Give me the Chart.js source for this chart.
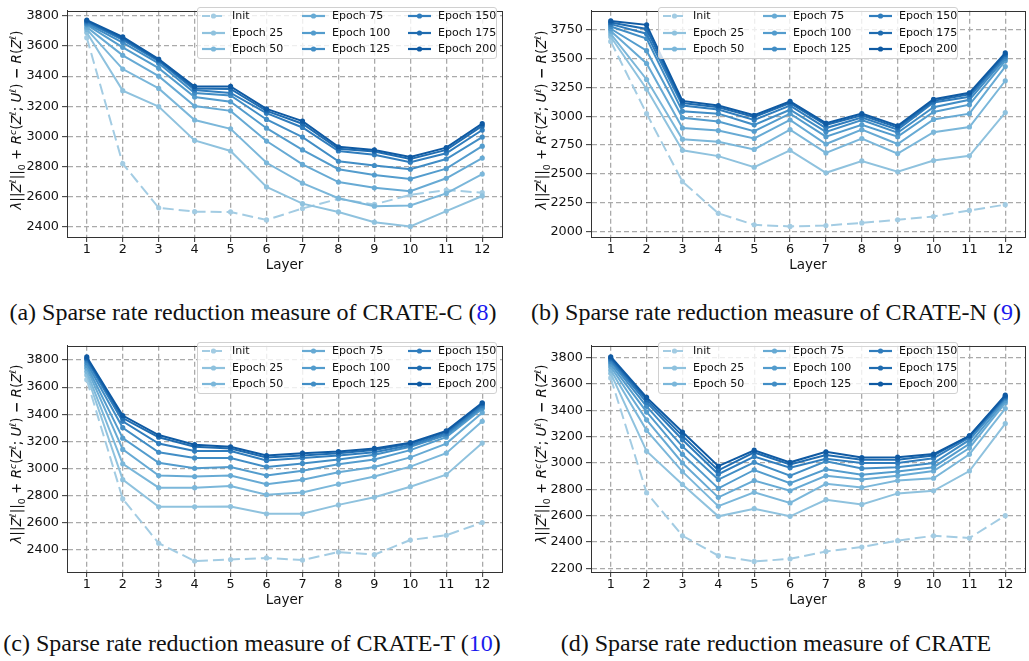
<!DOCTYPE html>
<html>
<head>
<meta charset="utf-8">
<script src="https://cdn.jsdelivr.net/npm/chart.js@4.4.0/dist/chart.umd.min.js"></script>
<style>
    body { margin: 0; background: #fff; width: 1029px; height: 661px; position: relative; overflow: hidden; }
    canvas { position: absolute; }
    .cap { position: absolute; font-family: "Liberation Serif", serif; font-size: 24px; color: #111;
           white-space: nowrap; transform: translate(-50%, -50%); }
    .cap .ref { color: #1a1aee; }
    .ytitle { position: absolute; font-family: "DejaVu Sans", sans-serif; font-size: 13.5px; color: #111;
              white-space: nowrap; transform: translate(-50%, -50%) rotate(-90deg); line-height: 16px; }
    .ytitle i { font-style: italic; }
    .ytitle sup, .ytitle sub { font-size: 70%; line-height: 0; }
    .legend { position: absolute; width: 300px; height: 52px; background: rgba(255,255,255,0.8);
              border: 1px solid #d0d0d0; border-radius: 3px; box-sizing: border-box; }
    .item { position: absolute; height: 12px; font-family: "DejaVu Sans", sans-serif; font-size: 11px; color: #111; }
    .item svg { position: absolute; left: 0; top: 0; }
    .item span { position: absolute; left: 31px; top: -1px; white-space: nowrap; }
</style>
</head>
<body>
<canvas id="chartA" width="510" height="280" style="left:0;top:0"></canvas>
<canvas id="chartB" width="502" height="280" style="left:527px;top:0"></canvas>
<canvas id="chartC" width="510" height="280" style="left:0;top:335px"></canvas>
<canvas id="chartD" width="502" height="280" style="left:527px;top:335px"></canvas>

<div class="cap" style="left:253px;top:312px">(a) Sparse rate reduction measure of CRATE-C (<span class="ref">8</span>)</div>
<div class="cap" style="left:776px;top:312px">(b) Sparse rate reduction measure of CRATE-N (<span class="ref">9</span>)</div>
<div class="cap" style="left:252px;top:643px">(c) Sparse rate reduction measure of CRATE-T (<span class="ref">10</span>)</div>
<div class="cap" style="left:776px;top:643px">(d) Sparse rate reduction measure of CRATE</div>

<script>
// capas (eje x)
const layers = [1, 2, 3, 4, 5, 6, 7, 8, 9, 10, 11, 12];

const seriesNames = ["Init", "Epoch 25", "Epoch 50", "Epoch 75", "Epoch 100", "Epoch 125", "Epoch 150", "Epoch 175", "Epoch 200"];
const seriesColors = ["#a3cce3", "#8fc2de", "#7bb7da", "#67aad4", "#539ccd", "#418dc5", "#307dbd", "#1f6cb0", "#0f5aa3"];

// =====================
// (a) CRATE-C
// =====================
const crateC = [
    [3655, 2820, 2528, 2502, 2500, 2447, 2523, 2587, 2550, 2613, 2645, 2628],
    [3690, 3304, 3198, 2974, 2904, 2666, 2555, 2500, 2432, 2404, 2506, 2606],
    [3710, 3447, 3319, 3109, 3051, 2826, 2691, 2591, 2538, 2543, 2623, 2751],
    [3725, 3538, 3400, 3202, 3170, 2970, 2815, 2698, 2660, 2638, 2723, 2857],
    [3740, 3591, 3453, 3262, 3230, 3055, 2911, 2783, 2745, 2719, 2787, 2936],
    [3748, 3623, 3485, 3289, 3272, 3113, 2996, 2836, 2808, 2783, 2851, 2996],
    [3758, 3640, 3500, 3308, 3289, 3155, 3060, 2904, 2879, 2830, 2889, 3043],
    [3765, 3651, 3506, 3319, 3315, 3170, 3085, 2919, 2900, 2851, 2911, 3070],
    [3772, 3660, 3513, 3332, 3332, 3183, 3102, 2932, 2911, 2864, 2926, 3085]
];
const ticksC = [2400, 2600, 2800, 3000, 3200, 3400, 3600, 3800];

// =====================
// (b) CRATE-N
// =====================
const crateN = [
    [3650, 3022, 2431, 2156, 2056, 2042, 2050, 2072, 2100, 2128, 2181, 2231],
    [3690, 3236, 2703, 2653, 2556, 2703, 2508, 2611, 2517, 2614, 2656, 3031],
    [3715, 3319, 2800, 2778, 2711, 2883, 2681, 2806, 2675, 2861, 2906, 3308],
    [3740, 3458, 2897, 2875, 2806, 2967, 2758, 2883, 2758, 2972, 3022, 3431],
    [3760, 3569, 2986, 2953, 2869, 3022, 2822, 2925, 2822, 3036, 3100, 3481],
    [3780, 3675, 3042, 3022, 2925, 3056, 2864, 2967, 2856, 3078, 3142, 3503],
    [3800, 3717, 3092, 3058, 2967, 3092, 2897, 2989, 2883, 3119, 3169, 3522],
    [3815, 3758, 3114, 3078, 2994, 3114, 2925, 3008, 2903, 3133, 3189, 3536],
    [3828, 3794, 3133, 3092, 3008, 3128, 2939, 3022, 2917, 3147, 3203, 3550]
];
const ticksN = [2000, 2250, 2500, 2750, 3000, 3250, 3500, 3750];

// =====================
// (c) CRATE-T
// =====================
const crateT = [
    [3655, 2776, 2449, 2318, 2329, 2341, 2325, 2384, 2365, 2473, 2508, 2602],
    [3690, 2918, 2718, 2718, 2720, 2666, 2666, 2732, 2788, 2866, 2955, 3188],
    [3715, 3035, 2859, 2859, 2871, 2807, 2824, 2885, 2941, 3014, 3113, 3348],
    [3740, 3141, 2948, 2941, 2948, 2885, 2918, 2972, 3012, 3082, 3184, 3412],
    [3760, 3224, 3042, 3002, 3012, 2948, 2984, 3031, 3066, 3136, 3231, 3442],
    [3780, 3301, 3120, 3078, 3078, 3012, 3038, 3066, 3101, 3160, 3247, 3454],
    [3800, 3348, 3184, 3129, 3129, 3059, 3078, 3096, 3120, 3172, 3259, 3466],
    [3812, 3372, 3231, 3160, 3148, 3082, 3096, 3113, 3136, 3184, 3271, 3478],
    [3823, 3391, 3247, 3176, 3160, 3096, 3113, 3125, 3148, 3191, 3278, 3485]
];
const ticksT = [2400, 2600, 2800, 3000, 3200, 3400, 3600, 3800];

// =====================
// (d) CRATE
// =====================
const crate = [
    [3645, 2773, 2446, 2295, 2251, 2271, 2327, 2361, 2409, 2446, 2429, 2599],
    [3680, 3089, 2836, 2594, 2652, 2594, 2720, 2684, 2768, 2788, 2938, 3298],
    [3705, 3247, 2933, 2671, 2776, 2696, 2841, 2812, 2866, 2883, 3065, 3412],
    [3730, 3327, 2999, 2738, 2866, 2788, 2902, 2873, 2902, 2938, 3113, 3455],
    [3750, 3387, 3065, 2806, 2946, 2846, 2951, 2909, 2934, 2967, 3145, 3472],
    [3768, 3429, 3125, 2873, 3004, 2902, 3012, 2958, 2967, 2999, 3174, 3489],
    [3783, 3460, 3176, 2914, 3048, 2963, 3031, 2999, 2999, 3035, 3193, 3497],
    [3795, 3480, 3205, 2943, 3079, 2987, 3060, 3023, 3023, 3055, 3205, 3504],
    [3806, 3497, 3234, 2975, 3096, 3004, 3084, 3040, 3043, 3067, 3205, 3514]
];
const ticksD = [2200, 2400, 2600, 2800, 3000, 3200, 3400, 3600, 3800];

const yTitleHtml = "<i>λ</i>||<i>Z</i><sup><i>ℓ</i></sup>||<sub>0</sub> + <i>R</i><sup><i>c</i></sup>(<i>Z</i><sup><i>ℓ</i></sup>; <i>U</i><sup><i>ℓ</i></sup>) <b>−</b> <i>R</i>(<i>Z</i><sup><i>ℓ</i></sup>)";

// marco completo alrededor del area
const framePlugin = {
    id: "frame",
    afterDatasetsDraw(chart) {
        const a = chart.chartArea;
        const ctx = chart.ctx;
        ctx.save();
        ctx.strokeStyle = "#333";
        ctx.lineWidth = 1;
        ctx.strokeRect(Math.round(a.left) + 0.5, Math.round(a.top) + 0.5,
            Math.round(a.right - a.left), Math.round(a.bottom - a.top));
        ctx.restore();
    }
};

const tickFont = { family: "DejaVu Sans", size: 12.8 };

function makePanel(id, values, yTicks, yMin, yMax, axisW, padTop, padRight) {
    const datasets = values.map((vals, i) => ({
        label: seriesNames[i],
        data: layers.map((l, j) => ({ x: l, y: vals[j] })),
        borderColor: seriesColors[i],
        backgroundColor: seriesColors[i],
        pointBackgroundColor: seriesColors[i],
        borderWidth: 2,
        borderDash: i === 0 ? [11, 5] : [],
        pointRadius: 2.6,
        pointBorderWidth: 0,
        tension: 0,
        order: values.length - 1 - i
    }));

    return new Chart(document.getElementById(id), {
        type: "line",
        data: { datasets: datasets },
        options: {
            responsive: false,
            animation: false,
            layout: { padding: { top: padTop, right: padRight, left: 0, bottom: 0 } },
            plugins: { legend: { display: false }, tooltip: { enabled: false } },
            scales: {
                x: {
                    type: "linear",
                    min: 0.45,
                    max: 12.55,
                    afterBuildTicks: axis => { axis.ticks = layers.map(v => ({ value: v })); },
                    afterFit: axis => { axis.height = 43; },
                    ticks: { color: "#111", font: tickFont, padding: 0, maxRotation: 0, callback: v => String(v) },
                    grid: { color: "#aaaaaa", lineWidth: 1.3, tickLength: 5, tickColor: "#333", tickWidth: 1 },
                    border: { display: true, color: "#333", dash: [5, 3] },
                    title: { display: true, text: "Layer", color: "#111", font: { family: "DejaVu Sans", size: 13.5 }, padding: { top: 0, bottom: 6 } }
                },
                y: {
                    min: yMin,
                    max: yMax,
                    afterBuildTicks: axis => { axis.ticks = yTicks.map(v => ({ value: v })); },
                    afterFit: axis => { axis.width = axisW; },
                    ticks: { color: "#111", font: tickFont, padding: 3, callback: v => String(v) },
                    grid: { color: "#aaaaaa", lineWidth: 1.3, tickLength: 5, tickColor: "#333", tickWidth: 1 },
                    border: { display: true, color: "#333", dash: [5, 3] }
                }
            }
        },
        plugins: [framePlugin]
    });
}

makePanel("chartA", crateC, ticksC, 2334, 3834, 67, 2, 8);
makePanel("chartB", crateN, ticksN, 1950, 3917, 64, 1, 3);
makePanel("chartC", crateT, ticksT, 2237, 3906, 67, 1, 8);
makePanel("chartD", crate, ticksD, 2171, 3890, 64, 1, 3);

// titulos del eje y (html)
[[16, 120], [541, 120], [16, 454], [541, 454]].forEach(p => {
    const t = document.createElement("div");
    t.className = "ytitle";
    t.style.left = p[0] + "px";
    t.style.top = p[1] + "px";
    t.innerHTML = yTitleHtml;
    document.body.appendChild(t);
});

// leyendas en html (3 columnas)
const legendPos = [[197, 7], [658, 7], [197, 342], [658, 342]];
const colLeft = [3, 103, 209];
const rowTop = [2, 19, 35];

legendPos.forEach(p => {
    const box = document.createElement("div");
    box.className = "legend";
    box.style.left = p[0] + "px";
    box.style.top = p[1] + "px";
    seriesNames.forEach((name, i) => {
        const item = document.createElement("div");
        item.className = "item";
        item.style.left = colLeft[Math.floor(i / 3)] + "px";
        item.style.top = rowTop[i % 3] + "px";
        const dash = i === 0 ? ' stroke-dasharray="8 4"' : "";
        item.innerHTML =
            '<svg width="26" height="12"><line x1="1" y1="6" x2="24" y2="6" stroke="' + seriesColors[i] +
            '" stroke-width="2.2"' + dash + '/><circle cx="12.5" cy="6" r="2.6" fill="' + seriesColors[i] + '"/></svg>' +
            "<span>" + name + "</span>";
        box.appendChild(item);
    });
    document.body.appendChild(box);
});
</script>
</body>
</html>
